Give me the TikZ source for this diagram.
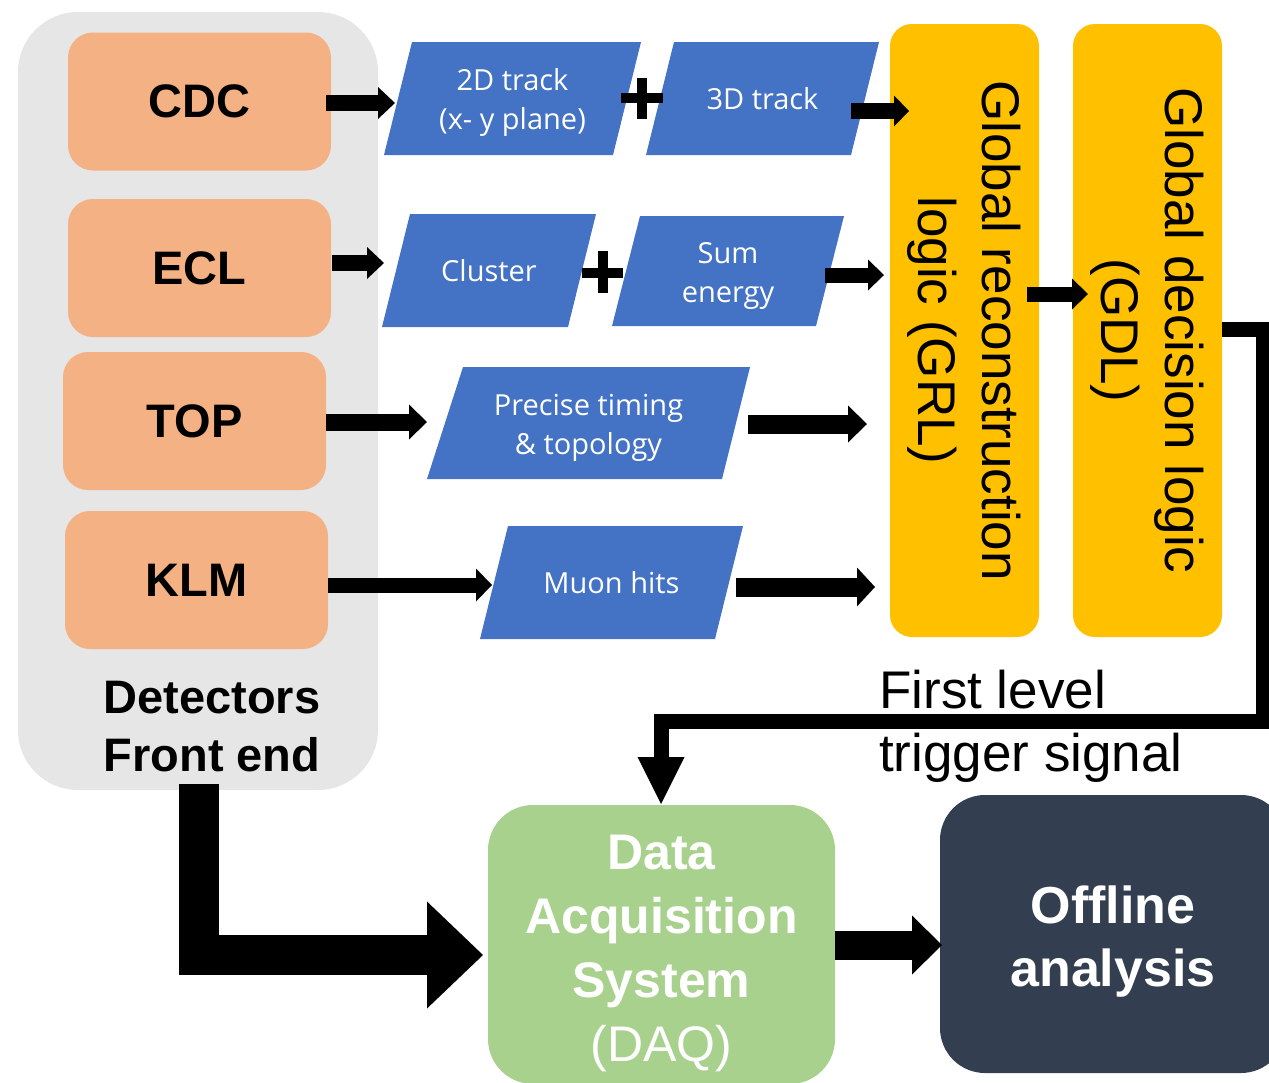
\documentclass[tikz,border=0pt]{standalone}
\usepackage{fontspec}
\setmainfont{Liberation Sans}
\newfontfamily\yahei{Open Sans}
\usetikzlibrary{arrows.meta}
\definecolor{grayC}{HTML}{E6E6E6}
\definecolor{orangeC}{HTML}{F4B183}
\definecolor{blueC}{HTML}{4472C4}
\definecolor{goldC}{HTML}{FFC000}
\definecolor{greenC}{HTML}{A9D18E}
\definecolor{darkC}{HTML}{333F50}
\def\slL{28pt}
\def\slR{28pt}
\tikzset{
  det/.style={rectangle, rounded corners=25pt, fill=orangeC, minimum width=263pt, minimum height=138pt, inner sep=0pt, font=\fontsize{47}{56}\selectfont\bfseries},
  slantL/.code={\def\slL{#1}},
  par/.style={rectangle, inner sep=0pt, minimum height=113pt, text=white, align=center, font=\yahei\fontsize{29}{39}\selectfont,
    path picture={\fill[blueC] ([xshift=\slL]path picture bounding box.north west) -- (path picture bounding box.north east) -- ([xshift=-\slR]path picture bounding box.south east) -- (path picture bounding box.south west) -- cycle;}},
  gold/.style={rectangle, rotate=-90, rounded corners=22pt, fill=goldC, minimum width=613pt, minimum height=149pt, inner sep=0pt, align=center, font=\fontsize{53}{64}\selectfont},
  blk/.style n args={3}{draw=black, line width=#1, -{Triangle[width=#2,length=#3,line width=0pt]}},
  plus/.style={line width=10pt}
}
\begin{document}
\begin{tikzpicture}[x=1pt,y=-1pt]
\useasboundingbox (0,0) rectangle (1269,1082);
% front end
\node[fill=grayC, rounded corners=60pt, minimum width=360pt, minimum height=778pt, inner sep=0pt] (fe) at (198,401) {};
\node[det] (cdc) at (199.5,101.5) {CDC};
\node[det] (ecl) at (199.5,268) {ECL};
\node[det] (top) at (194.5,421) {TOP};
\node[det] (klm) at (196.5,580) {KLM};
\node[font=\fontsize{47}{58}\selectfont\bfseries, align=center, inner sep=0pt] (fetext) at (212,727) {Detectors\\Front end};
% parallelograms
\node[par, minimum width=257pt] (t2d) at (512.5,98.5) {\rule{0pt}{30pt}2D track\\(x- y plane)};
\node[par, minimum width=233pt] (t3d) at (762.5,98.5) {\rule{0pt}{23pt}3D track};
\node[par, minimum width=214pt] (clu) at (489,270.5) {Cluster};
\node[par, minimum width=232pt, minimum height=110pt] (sum) at (728,271) {\rule{0pt}{30pt}Sum\\energy};
\node[par, minimum width=323pt, minimum height=112pt, slantL=36pt] (pre) at (588.5,423) {\rule{0pt}{31pt}Precise timing\\\& topology};
\node[par, minimum width=263pt] (muon) at (611.5,582.5) {Muon hits};
% plus signs
\draw[plus] (621,98) -- (663,98) (642,78) -- (642,119);
\draw[plus] (582,272.5) -- (623,272.5) (602.5,251) -- (602.5,293);
% GRL / GDL
\node[gold] (grl) at (964.5,330.5) {Global reconstruction\\logic (GRL)};
\node[gold] (gdl) at (1147.5,330.5) {Global decision logic\\(GDL)};
% DAQ and offline
\node[fill=greenC, rounded corners=45pt, minimum width=347pt, minimum height=279pt, inner sep=0pt, text=white, align=center, font=\fontsize{50}{64}\selectfont] (daq) at (661.5,944.5) {\rule{0pt}{52pt}\textbf{Data}\\\textbf{Acquisition}\\\textbf{System}\\(DAQ)};
\node[fill=darkC, rounded corners=45pt, minimum width=346pt, minimum height=278pt, inner sep=0pt, text=white, align=center, font=\fontsize{52}{63}\selectfont\bfseries] (off) at (1113,934) {\rule{0pt}{52pt}Offline\\analysis};
\node[anchor=west, align=left, inner sep=0pt, font=\fontsize{53}{63}\selectfont] (trig) at (879,726) {First level\\trigger signal};
% arrow end points
\coordinate (a1s) at (326,103);  \coordinate (a1e) at (395,103);
\coordinate (a2s) at (332,263);  \coordinate (a2e) at (384,263);
\coordinate (a3s) at (326,422);  \coordinate (a3e) at (427,422);
\coordinate (a4s) at (328,585);  \coordinate (a4e) at (492,585);
\coordinate (a5s) at (851,111);  \coordinate (a5e) at (909,111);
\coordinate (a6s) at (825,275);  \coordinate (a6e) at (884,275);
\coordinate (a7s) at (748,424);  \coordinate (a7e) at (867,424);
\coordinate (a8s) at (736,587);  \coordinate (a8e) at (875,587);
\coordinate (a9s) at (1027,294); \coordinate (a9e) at (1088,294);
\coordinate (a10s) at (835,945); \coordinate (a10e) at (942,945);
\coordinate (gdlo) at (1222,329); \coordinate (trb) at (1263,721); \coordinate (daqin) at (661,804);
\coordinate (fes) at (199,784); \coordinate (daqw) at (483,955);
% arrows
\draw[blk={16pt}{32pt}{17pt}] (a1s) -- (a1e);
\draw[blk={16pt}{32pt}{17pt}] (a2s) -- (a2e);
\draw[blk={17pt}{35pt}{18pt}] (a3s) -- (a3e);
\draw[blk={15pt}{33pt}{16pt}] (a4s) -- (a4e);
\draw[blk={16pt}{31pt}{15pt}] (a5s) -- (a5e);
\draw[blk={15pt}{31pt}{16pt}] (a6s) -- (a6e);
\draw[blk={19pt}{37pt}{19pt}] (a7s) -- (a7e);
\draw[blk={19pt}{39pt}{18pt}] (a8s) -- (a8e);
\draw[blk={15pt}{31pt}{16pt}] (a9s) -- (a9e);
\draw[blk={29pt}{59pt}{30pt}] (a10s) -- (a10e);
\draw[blk={15pt}{47pt}{47pt}] (gdlo) -| (trb) -- (trb -| daqin) -- (daqin);
\draw[blk={40pt}{107pt}{56pt}] (fes) |- (daqw);
\end{tikzpicture}
\end{document}
